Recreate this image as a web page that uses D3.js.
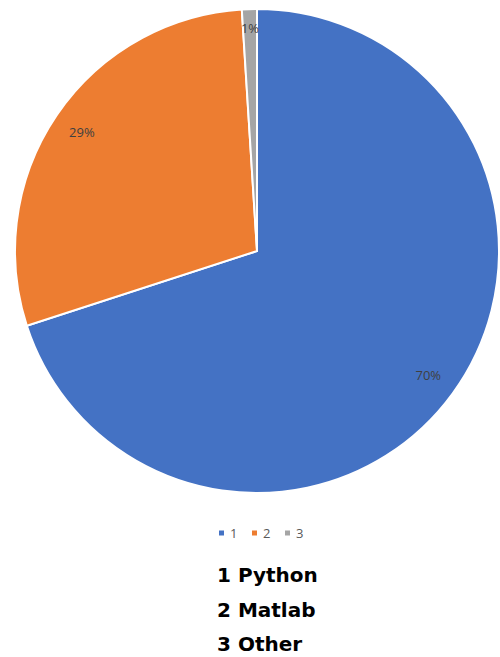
<!DOCTYPE html>
<html>
<head>
<meta charset="utf-8">
<script src="https://cdn.jsdelivr.net/npm/d3@7"></script>
<style>
  body { margin: 0; background: #fff; }
  svg { display: block; }
</style>
</head>
<body>
<div id="chart"></div>
<script>
// DATA
const categories = ["1", "2", "3"];
const shares = [70, 29, 1];
const names = ["Python", "Matlab", "Other"];
const colors = ["#4472C4", "#ED7D31", "#A5A5A5"];

const width = 500;
const height = 657;
const cx = 257, cy = 251, radius = 242;

const svg = d3.select("#chart")
    .append("svg")
    .attr("width", width)
    .attr("height", height);

/***** PIE *****/
const pie = d3.pie()
    .value(d => d.value)
    .sort(null);

const arcs = pie(categories.map((c, i) => ({cat: c, value: shares[i]})));

const arc = d3.arc().innerRadius(0).outerRadius(radius);

const g = svg.append("g")
    .attr("transform", `translate(${cx},${cy})`);

g.selectAll("path.slice")
    .data(arcs)
    .enter()
    .append("path")
    .attr("class", "slice")
    .attr("d", arc)
    .attr("fill", (d, i) => colors[i])
    .attr("stroke", "#fff")
    .attr("stroke-width", 2);

// data labels (tiny slice pushed out a bit, like Excel's best fit)
g.selectAll("text.lbl")
    .data(arcs)
    .enter()
    .append("text")
    .attr("class", "lbl")
    .attr("transform", d => {
        const r = d.data.value < 5 ? radius * 0.92 : radius * 0.875;
        const a = (d.startAngle + d.endAngle) / 2;
        return `translate(${Math.sin(a) * r},${-Math.cos(a) * r})`;
    })
    .attr("text-anchor", "middle")
    .attr("dy", "0.35em")
    .attr("font-family", "'Open Sans', sans-serif")
    .attr("font-size", 13)
    .attr("fill", "#404040")
    .text(d => d.data.value + "%");

/***** LEGEND *****/
const legend = svg.append("g")
    .attr("transform", "translate(219,533)");

const item = legend.selectAll("g")
    .data(categories)
    .enter()
    .append("g")
    .attr("transform", (d, i) => `translate(${i * 33},0)`);

item.append("rect")
    .attr("x", 0).attr("y", -2.5)
    .attr("width", 5).attr("height", 5)
    .attr("fill", (d, i) => colors[i]);

item.append("text")
    .attr("x", 11)
    .attr("dy", "0.35em")
    .attr("font-family", "'Open Sans', sans-serif")
    .attr("font-size", 13)
    .attr("fill", "#595959")
    .text(d => d);

/***** KEY TEXT *****/
svg.append("g")
    .selectAll("text")
    .data(categories)
    .enter()
    .append("text")
    .attr("x", 217)
    .attr("y", (d, i) => 582 + i * 34.5)
    .attr("font-family", "'DejaVu Sans', sans-serif")
    .attr("font-weight", 700)
    .attr("font-size", 20)
    .attr("fill", "#000")
    .text((d, i) => d + " " + names[i]);
</script>
</body>
</html>
